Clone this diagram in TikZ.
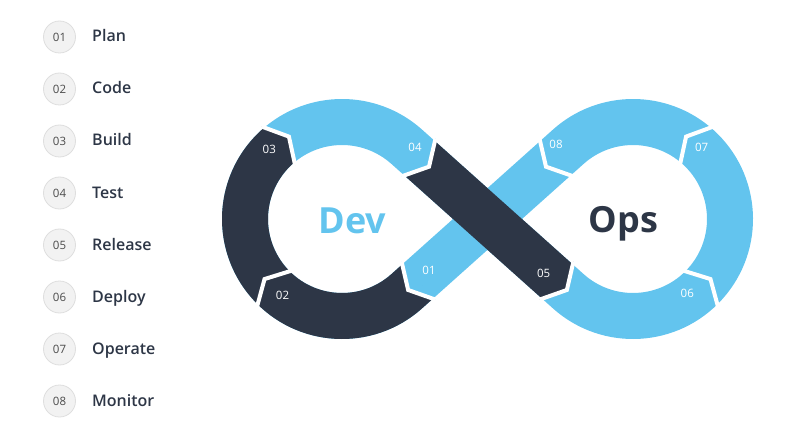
\documentclass[tikz,border=0pt]{standalone}
\usepackage{fontspec}
\setmainfont{Open Sans}
\newfontfamily\semibold{Open Sans Semibold}
\usepackage{xcolor}
\usetikzlibrary{calc}
\definecolor{skyblue}{RGB}{99,196,238}
\definecolor{slate}{RGB}{45,54,70}
\definecolor{dotfill}{RGB}{242,242,242}
\definecolor{dotline}{RGB}{222,222,222}
\definecolor{dotnum}{RGB}{75,75,75}

\newcommand{\chevron}[3]{%
  \begin{scope}[shift={(#1)}, rotate=#2]
    \path[fill=#3] (0,25.5) -- (14,0) -- (0,-25.5) -- cycle;
    \draw[gapline] (0,25.5) -- (14,0) -- (0,-25.5);
  \end{scope}}

\begin{document}
\begin{tikzpicture}[x=1pt, y=1pt,
  numdot/.style={circle, fill=dotfill, draw=dotline, line width=0.8pt, minimum size=32pt, inner sep=0pt, text=dotnum, font=\fontsize{11.5}{13}\selectfont},
  steplabel/.style={anchor=base west, inner sep=0pt, text=slate, font=\semibold\fontsize{16}{19}\selectfont},
  lightband/.style={draw=skyblue, line width=46pt},
  darkband/.style={draw=slate, line width=46pt},
  gapline/.style={draw=white, line width=4pt},
  segnum/.style={inner sep=0pt, text=white, font=\fontsize{11.5}{13}\selectfont},
  bigword/.style={anchor=base, inner sep=0pt, font=\bfseries\fontsize{36}{40}\selectfont}]
\useasboundingbox (0,0) rectangle (800,437);

\foreach \i/\name in {1/Plan, 2/Code, 3/Build, 4/Test, 5/Release, 6/Deploy, 7/Operate, 8/Monitor} {
  \node[numdot] (dot\i) at (59.5, 452-52*\i) {0\i};
  \node[steplabel] (step\i) at (92, 447-52*\i) {\name};
}

% loop centres and tangent points
\coordinate (L) at (342,218);
\coordinate (R) at (633,218);
\coordinate (TLd) at ($(L)+(48.2:97)$);
\coordinate (TLl) at ($(L)+(-48.2:97)$);
\coordinate (TRl) at ($(R)+(131.8:97)$);
\coordinate (TRd) at ($(R)+(228.2:97)$);
\coordinate (P12) at ($(TLl)!16pt!(TRl)$);
\coordinate (P23) at ($(L)+(226:97)$);
\coordinate (P34) at ($(L)+(131:97)$);
\coordinate (P45) at ($(TLd)!16pt!(TRd)$);
\coordinate (P56) at ($(TRd)!16pt!(TLd)$);
\coordinate (P67) at ($(R)+(-46:97)$);
\coordinate (P78) at ($(R)+(49:97)$);
\coordinate (P81) at ($(TRl)!16pt!(TLl)$);
% dark runs start and stop just under the tips
\coordinate (Q12) at ($(TLl)!15pt!(TRl)$);
\coordinate (Q45) at ($(TLd)!17pt!(TRd)$);
\coordinate (Q56) at ($(TRd)!15pt!(TLd)$);

\draw[lightband] (TLl) arc[start angle=-48.2, end angle=-311.8, radius=97pt]
  -- (TRd) arc[start angle=228.2, end angle=491.8, radius=97pt] -- cycle;
\draw[darkband] (Q12) -- (TLl) arc[start angle=-48.2, end angle=-229.6, radius=97pt];
\draw[darkband] (Q45) -- (Q56);

\chevron{P12}{221.8}{skyblue}
\chevron{P23}{136}{none}
\chevron{P34}{41}{slate}
\chevron{P45}{-41.8}{skyblue}
\chevron{P56}{-41.8}{slate}
\chevron{P67}{44}{none}
\chevron{P78}{139}{none}
\chevron{P81}{221.8}{none}

\node[segnum] (seg1) at (429,167) {01};
\node[segnum] (seg2) at (282.5,142) {02};
\node[segnum] (seg3) at (269.3,287.5) {03};
\node[segnum] (seg4) at (415,290) {04};
\node[segnum] (seg5) at (543.7,164) {05};
\node[segnum] (seg6) at (687.3,144) {06};
\node[segnum] (seg7) at (701.7,289.3) {07};
\node[segnum] (seg8) at (556,293) {08};

\node[bigword, text=skyblue] (dev) at (352.5,204) {Dev};
\node[bigword, text=slate] (ops) at (623.5,205) {Ops};
\end{tikzpicture}
\end{document}
